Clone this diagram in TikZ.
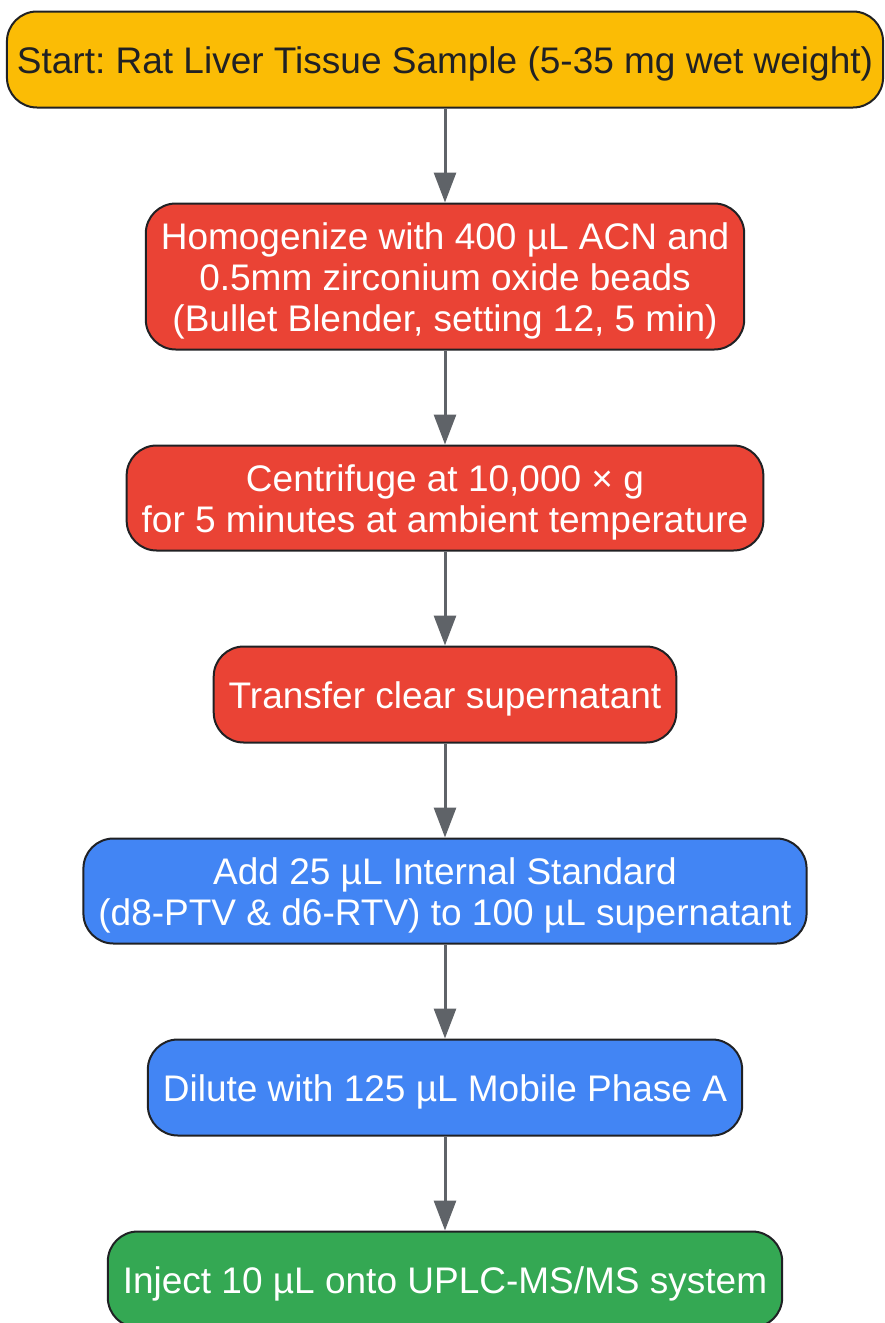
\documentclass[tikz,border=0pt]{standalone}
\usepackage{fontspec}
\setmainfont{Liberation Sans}
\usepackage{tikz}
\usetikzlibrary{shapes, arrows.meta, positioning}
\definecolor{yellow1}{RGB}{251, 188, 5}
\definecolor{red1}{RGB}{234, 67, 53}
\definecolor{blue1}{RGB}{66, 133, 244}
\definecolor{green1}{RGB}{52, 168, 83}
\definecolor{edge1}{RGB}{32, 33, 36}
\definecolor{arrow1}{RGB}{95, 99, 104}
\newcommand{\linestrut}{\rule[-8pt]{0pt}{44pt}}
\frenchspacing

\begin{document}
\begin{tikzpicture}[
    stepbox/.style={draw=edge1, line width=2pt, rounded corners=30pt, align=center,
      minimum height=96pt, inner xsep=15pt, inner ysep=10pt, text=white,
      font=\fontsize{37}{41}\selectfont\linestrut},
    flow/.style={draw=arrow1, line width=3pt, -{Triangle[length=30pt, width=22pt]}}
  ]
  \useasboundingbox (0,0) rectangle (884pt,-1323pt);

  \node[stepbox, fill=yellow1, text=edge1, inner xsep=10pt] (sample) at (445pt,-59.5pt)
    {Start: Rat Liver Tissue Sample (5-35 mg wet weight)};
  \node[stepbox, fill=red1, below=94pt of sample] (homog)
    {\linestrut Homogenize with 400 µL ACN and\\0.5mm zirconium oxide beads\\(Bullet Blender, setting 12, 5 min)};
  \node[stepbox, fill=red1, below=94pt of homog] (centri)
    {\linestrut Centrifuge at 10,000 × g\\for 5 minutes at ambient temperature};
  \node[stepbox, fill=red1, below=94pt of centri] (transfer)
    {Transfer clear supernatant};
  \node[stepbox, fill=blue1, below=94pt of transfer] (istd)
    {\linestrut Add 25 µL Internal Standard\\(d8-PTV \& d6-RTV) to 100 µL supernatant};
  \node[stepbox, fill=blue1, below=94pt of istd] (dilute)
    {Dilute with 125 µL Mobile Phase A};
  \node[stepbox, fill=green1, below=94pt of dilute] (inject)
    {Inject 10 µL onto UPLC-MS/MS system};

  \draw[flow] (sample) -- (homog);
  \draw[flow] (homog) -- (centri);
  \draw[flow] (centri) -- (transfer);
  \draw[flow] (transfer) -- (istd);
  \draw[flow] (istd) -- (dilute);
  \draw[flow] (dilute) -- (inject);
\end{tikzpicture}
\end{document}
